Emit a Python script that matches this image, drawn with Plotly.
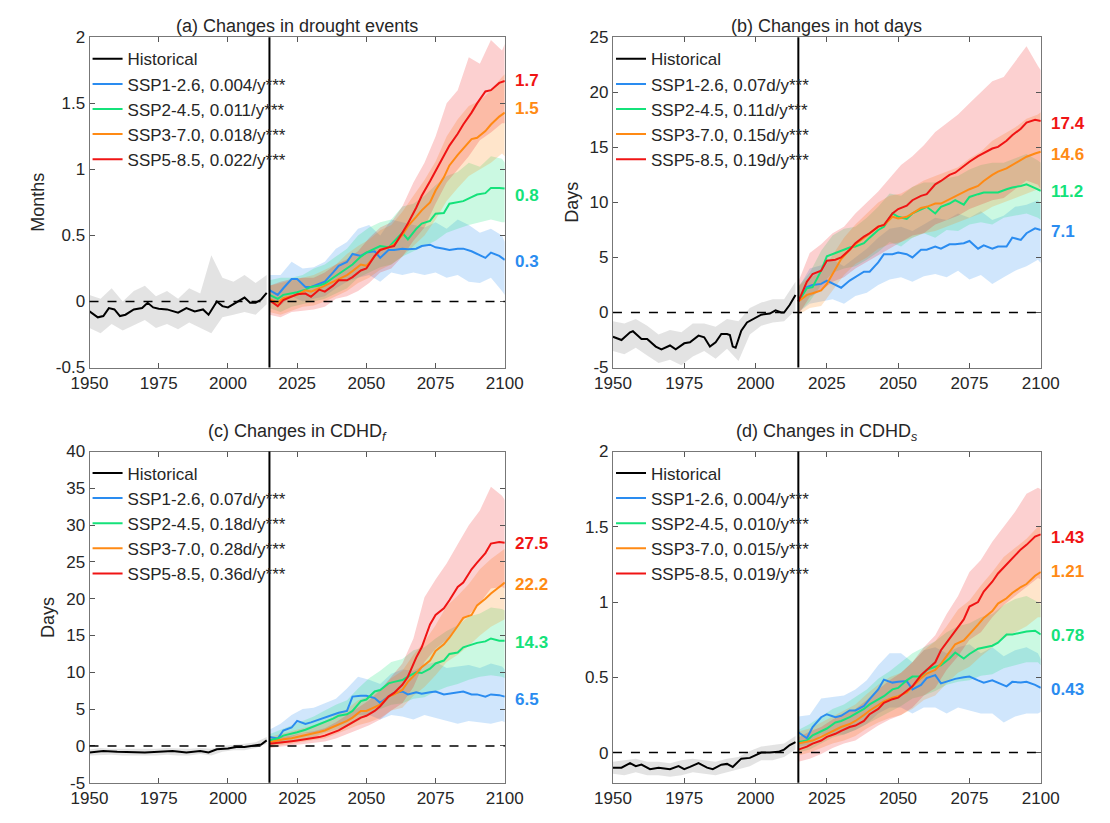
import plotly.graph_objects as go

# ---------------- data ----------------
ssp_years = [2015, 2018, 2020, 2023, 2025, 2028, 2030, 2033, 2035, 2038, 2040, 2043, 2045, 2048, 2050,
             2053, 2055, 2058, 2060, 2063, 2065, 2068, 2070, 2073, 2075, 2078, 2080, 2083, 2085, 2088,
             2090, 2093, 2095, 2098, 2100]
band_years_ssp = [2015, 2019, 2023, 2027, 2031, 2035, 2039, 2043, 2047, 2051, 2055, 2059, 2063, 2067,
                  2071, 2075, 2079, 2083, 2087, 2091, 2095, 2099, 2100]
band_years_hist = [1950, 1954, 1958, 1962, 1966, 1970, 1974, 1978, 1982, 1986, 1990, 1994, 1998, 2002,
                   2006, 2010, 2014]
scenarios = ["SSP1-2.6", "SSP2-4.5", "SSP3-7.0", "SSP5-8.5"]
x_ticks = [1950, 1975, 2000, 2025, 2050, 2075, 2100]

# ---- (a) drought events (months)
a_hist_years = [1950, 1953, 1955, 1957, 1959, 1961, 1963, 1966, 1969, 1971, 1973, 1975, 1978, 1982, 1985,
                1988, 1991, 1993, 1996, 1998, 2000, 2003, 2006, 2008, 2010, 2012, 2014]
a_hist = [-0.074, -0.12, -0.11, -0.05, -0.06, -0.11, -0.1, -0.06, -0.05, -0.01, -0.045, -0.055, -0.06, -0.085,
          -0.05, -0.075, -0.06, -0.1, 0.0, -0.035, -0.045, -0.01, 0.03, -0.01, -0.01, 0.015, 0.065]
a_hist_lo = [-0.2, -0.24, -0.17, -0.22, -0.18, -0.14, -0.2, -0.17, -0.21, -0.16, -0.2, -0.24, -0.12, -0.1, -0.08, -0.1, -0.02]
a_hist_hi = [0.05, 0.02, 0.1, 0.0, 0.08, 0.12, 0.04, 0.08, 0.02, 0.1, 0.06, 0.35, 0.18, 0.15, 0.2, 0.14, 0.2]
a_ssp126 = [0.086, 0.05, 0.1, 0.17, 0.17, 0.11, 0.11, 0.135, 0.15, 0.22, 0.27, 0.3, 0.36, 0.345, 0.37, 0.38, 0.33,
            0.39, 0.39, 0.4, 0.395, 0.4, 0.42, 0.43, 0.41, 0.4, 0.39, 0.4, 0.4, 0.38, 0.36, 0.33, 0.37, 0.345, 0.315]
a_ssp245 = [0.05, 0.02, 0.05, 0.06, 0.07, 0.09, 0.11, 0.12, 0.135, 0.18, 0.21, 0.25, 0.28, 0.34, 0.37, 0.4, 0.42,
            0.41, 0.455, 0.52, 0.47, 0.55, 0.59, 0.61, 0.665, 0.67, 0.74, 0.75, 0.76, 0.79, 0.81, 0.82, 0.86, 0.86, 0.855]
a_ssp370 = [0.02, -0.01, 0.025, 0.04, 0.05, 0.085, 0.075, 0.1, 0.12, 0.15, 0.17, 0.2, 0.23, 0.28, 0.27, 0.345, 0.39,
            0.41, 0.43, 0.505, 0.57, 0.64, 0.69, 0.75, 0.84, 0.94, 1.03, 1.11, 1.16, 1.23, 1.24, 1.29, 1.34, 1.4, 1.43]
a_ssp585 = [0.01, -0.035, 0.01, 0.04, 0.055, 0.06, 0.035, 0.09, 0.075, 0.12, 0.16, 0.16, 0.185, 0.235, 0.25, 0.345,
            0.39, 0.41, 0.42, 0.52, 0.59, 0.71, 0.8, 0.91, 0.985, 1.1, 1.18, 1.27, 1.34, 1.43, 1.5, 1.59, 1.6, 1.655, 1.67]
a_ssp126_lo = [0.0, -0.03, 0.04, 0.0, 0.02, 0.04, 0.1, 0.15, 0.18, 0.2, 0.15, 0.22, 0.2, 0.22, 0.2, 0.22, 0.18, 0.2, 0.15, 0.14, 0.18, 0.08, 0.05]
a_ssp126_hi = [0.2, 0.2, 0.3, 0.25, 0.26, 0.3, 0.4, 0.45, 0.55, 0.58, 0.5, 0.62, 0.6, 0.58, 0.56, 0.6, 0.55, 0.62, 0.58, 0.52, 0.55, 0.5, 0.45]
a_ssp245_lo = [-0.05, -0.08, -0.04, -0.02, 0.0, 0.02, 0.06, 0.1, 0.18, 0.22, 0.26, 0.28, 0.34, 0.38, 0.42, 0.46, 0.52, 0.55, 0.58, 0.6, 0.62, 0.6, 0.6]
a_ssp245_hi = [0.16, 0.18, 0.18, 0.2, 0.25, 0.28, 0.34, 0.4, 0.5, 0.56, 0.6, 0.62, 0.72, 0.74, 0.8, 0.88, 0.95, 0.98, 1.05, 1.02, 1.1, 1.08, 1.05]
a_ssp370_lo = [-0.08, -0.1, -0.07, -0.04, -0.03, 0.0, 0.04, 0.08, 0.14, 0.18, 0.24, 0.28, 0.34, 0.42, 0.5, 0.62, 0.76, 0.86, 0.95, 1.0, 1.05, 1.12, 1.1]
a_ssp370_hi = [0.12, 0.14, 0.16, 0.18, 0.2, 0.24, 0.28, 0.36, 0.42, 0.47, 0.54, 0.58, 0.68, 0.8, 0.92, 1.06, 1.25, 1.38, 1.48, 1.52, 1.6, 1.7, 1.72]
a_ssp585_lo = [-0.1, -0.12, -0.08, -0.07, -0.06, -0.04, 0.02, 0.04, 0.08, 0.14, 0.22, 0.25, 0.34, 0.46, 0.56, 0.74, 0.9, 1.0, 1.1, 1.22, 1.28, 1.35, 1.35]
a_ssp585_hi = [0.12, 0.15, 0.17, 0.18, 0.18, 0.22, 0.28, 0.32, 0.38, 0.48, 0.56, 0.6, 0.72, 0.9, 1.05, 1.25, 1.5, 1.6, 1.85, 1.8, 1.98, 1.9, 1.95]
a_trends = ["0.004/y***", "0.011/y***", "0.018/y***", "0.022/y***"]
a_end_labels = ["0.3", "0.8", "1.5", "1.7"]
a_end_label_y = [0.3, 0.8, 1.46, 1.67]
a_yticks = [-0.5, 0, 0.5, 1, 1.5, 2]
a_yticktext = ["-0.5", "0", "0.5", "1", "1.5", "2"]

# ---- (b) hot days
b_hist_years = [1950, 1953, 1956, 1957, 1960, 1962, 1965, 1967, 1970, 1972, 1975, 1977, 1980, 1982, 1984, 1986,
                1988, 1990, 1991, 1992, 1993, 1995, 1997, 2000, 2002, 2005, 2007, 2009, 2010, 2012, 2014]
b_hist = [-2.2, -2.5, -1.8, -1.7, -2.4, -2.4, -3.1, -3.35, -3.0, -3.35, -2.8, -2.7, -2.1, -2.25, -3.1, -2.7,
          -1.95, -1.95, -2.05, -3.1, -3.2, -1.65, -0.9, -0.5, -0.2, -0.1, 0.2, 0.0, 0.0, 0.7, 1.6]
b_hist_lo = [-3.5, -3.8, -3.2, -3.9, -4.6, -4.3, -4.8, -4.0, -3.5, -4.2, -3.3, -4.4, -2.0, -1.2, -0.9, -0.8, 0.2]
b_hist_hi = [-0.8, -1.0, -0.6, -1.2, -2.0, -1.6, -1.8, -1.0, -1.0, -1.3, -0.6, -0.8, 0.4, 0.9, 1.2, 1.2, 2.8]
b_ssp126 = [1.0, 2.3, 2.5, 2.6, 2.9, 2.5, 2.25, 2.9, 3.2, 3.7, 3.7, 4.55, 5.3, 5.3, 5.45, 5.3, 5.0, 5.7, 5.7, 6.0,
            5.8, 6.2, 6.2, 6.3, 6.5, 5.8, 6.1, 5.8, 6.0, 6.0, 6.8, 6.6, 7.2, 7.65, 7.5]
b_ssp245 = [1.0, 2.2, 2.3, 3.8, 5.1, 5.4, 5.6, 5.9, 6.0, 6.3, 6.8, 7.5, 7.8, 9.0, 8.7, 8.5, 9.0, 9.4, 9.6, 9.0,
            9.6, 9.9, 10.2, 9.8, 10.5, 10.75, 10.9, 10.9, 10.9, 11.2, 11.35, 11.5, 11.65, 11.3, 11.05]
b_ssp370 = [1.0, 1.6, 1.75, 2.0, 2.6, 4.0, 4.85, 5.7, 6.2, 6.8, 7.2, 7.8, 7.95, 8.7, 8.55, 8.7, 9.0, 9.5, 9.6, 9.9,
            9.9, 10.3, 10.5, 10.9, 11.2, 11.5, 11.95, 12.5, 12.8, 13.1, 13.4, 13.85, 14.15, 14.45, 14.6]
b_ssp585 = [1.0, 2.8, 3.5, 3.8, 4.7, 4.8, 5.0, 5.7, 6.3, 6.9, 7.2, 7.8, 7.95, 9.0, 9.4, 9.7, 10.2, 10.6, 10.75,
            11.65, 11.95, 12.5, 12.7, 13.3, 13.7, 14.2, 14.45, 14.9, 15.05, 15.6, 16.1, 16.7, 17.25, 17.5, 17.4]
b_ssp126_lo = [0.0, 0.8, 1.0, 1.2, 0.8, 1.5, 1.8, 2.5, 3.0, 3.2, 2.8, 3.3, 3.5, 3.2, 3.8, 3.0, 3.4, 2.6, 3.2, 3.8, 4.2, 4.8, 4.5]
b_ssp126_hi = [2.2, 4.0, 4.3, 4.8, 4.2, 5.0, 5.8, 6.8, 7.6, 7.8, 7.4, 8.0, 8.6, 8.4, 9.0, 8.6, 9.2, 8.4, 8.8, 9.6, 9.8, 10.2, 9.8]
b_ssp245_lo = [0.0, 1.0, 2.5, 3.6, 4.0, 4.2, 4.8, 5.5, 6.4, 6.0, 6.8, 7.2, 6.8, 7.5, 7.4, 8.0, 8.2, 8.0, 8.6, 8.8, 9.0, 8.6, 8.4]
b_ssp245_hi = [2.4, 3.6, 5.6, 7.0, 7.6, 7.8, 8.6, 9.6, 10.8, 10.6, 11.4, 11.8, 11.8, 12.2, 12.4, 13.0, 13.4, 13.6, 13.6, 14.0, 14.4, 13.8, 13.6]
b_ssp370_lo = [-0.2, 0.4, 0.6, 2.0, 3.4, 4.4, 5.0, 5.8, 6.2, 6.4, 6.8, 7.2, 7.4, 7.8, 8.2, 8.6, 9.0, 9.6, 10.0, 10.4, 10.8, 11.2, 11.0]
b_ssp370_hi = [2.4, 3.2, 3.6, 5.2, 6.8, 8.0, 9.0, 10.0, 10.6, 10.8, 11.4, 12.0, 12.4, 12.8, 13.2, 14.0, 14.6, 15.6, 16.2, 16.8, 17.6, 18.0, 18.2]
b_ssp585_lo = [-0.2, 1.4, 2.0, 2.8, 3.2, 4.0, 4.6, 5.2, 5.8, 6.4, 7.0, 7.2, 8.0, 8.4, 8.8, 9.4, 9.8, 10.2, 10.4, 11.2, 12.0, 11.6, 11.2]
b_ssp585_hi = [2.8, 5.4, 6.2, 7.2, 7.8, 9.0, 10.0, 11.0, 12.2, 13.4, 14.2, 15.2, 16.4, 17.2, 18.0, 19.0, 20.0, 21.0, 21.4, 22.8, 24.2, 22.4, 22.0]
b_trends = ["0.07d/y***", "0.11d/y***", "0.15d/y***", "0.19d/y***"]
b_end_labels = ["7.1", "11.2", "14.6", "17.4"]
b_end_label_y = [7.4, 11.0, 14.4, 17.2]
b_yticks = [-5, 0, 5, 10, 15, 20, 25]
b_yticktext = ["-5", "0", "5", "10", "15", "20", "25"]

# ---- (c) CDHD_f
c_hist_years = [1950, 1955, 1960, 1965, 1970, 1975, 1980, 1985, 1990, 1993, 1996, 2000, 2003, 2006, 2010, 2012, 2014]
c_hist = [-0.9, -0.7, -0.8, -0.9, -0.9, -0.8, -0.7, -0.9, -0.7, -0.9, -0.45, -0.35, -0.15, -0.15, 0.1, 0.2, 0.75]
c_hist_lo = [-1.3, -1.2, -1.2, -1.3, -1.4, -1.3, -1.3, -1.2, -1.3, -1.3, -1.1, -1.3, -0.8, -0.6, -0.6, -0.3, 0.3]
c_hist_hi = [-0.5, -0.3, -0.4, -0.4, -0.5, -0.5, -0.4, -0.3, -0.4, -0.4, -0.3, -0.4, 0.0, 0.2, 0.3, 0.5, 1.2]
c_ssp126 = [1.2, 1.0, 2.1, 2.5, 3.4, 3.0, 3.2, 3.6, 3.85, 4.3, 4.5, 4.75, 6.7, 6.8, 6.8, 6.5, 5.85, 6.7, 7.2, 7.4,
            7.0, 7.3, 7.1, 7.3, 7.4, 7.0, 7.1, 7.3, 7.4, 7.0, 7.0, 6.7, 7.0, 6.9, 6.7]
c_ssp245 = [0.75, 1.0, 1.4, 1.65, 1.85, 2.2, 2.5, 2.9, 3.2, 3.7, 4.1, 4.3, 4.75, 6.1, 6.3, 7.4, 7.6, 8.5, 8.7, 8.95,
            9.4, 10.0, 9.9, 10.5, 11.2, 11.6, 12.5, 12.7, 13.4, 13.8, 14.0, 14.2, 14.6, 14.3, 14.3]
c_ssp370 = [0.5, 0.75, 0.9, 1.05, 1.2, 1.45, 1.65, 1.9, 2.1, 2.6, 3.0, 3.4, 3.85, 4.75, 4.75, 5.2, 5.6, 6.7, 7.0,
            7.6, 8.7, 9.85, 10.7, 11.6, 12.9, 13.8, 14.7, 16.3, 17.4, 17.8, 19.1, 20.0, 20.7, 21.6, 22.2]
c_ssp585 = [0.3, 0.4, 0.5, 0.65, 0.75, 0.9, 1.05, 1.2, 1.4, 1.8, 2.1, 2.75, 3.2, 3.85, 4.1, 4.75, 5.4, 6.7, 7.2,
            8.3, 9.4, 12.0, 13.4, 16.5, 17.8, 18.7, 19.8, 21.6, 22.2, 24.0, 24.9, 26.2, 27.5, 27.7, 27.6]
c_ssp126_lo = [0.2, 0.4, 1.2, 1.8, 1.8, 2.2, 2.6, 3.2, 4.2, 4.2, 3.6, 4.2, 4.0, 3.6, 4.2, 3.8, 3.4, 3.0, 3.4, 3.2, 3.0, 3.4, 3.2]
c_ssp126_hi = [2.2, 3.0, 4.2, 5.0, 5.2, 5.8, 6.4, 7.8, 9.4, 9.0, 8.4, 9.8, 10.4, 10.2, 11.0, 11.4, 10.6, 10.8, 11.0, 10.6, 11.2, 10.8, 10.4]
c_ssp245_lo = [0.0, 0.3, 0.6, 0.9, 1.2, 1.8, 2.2, 2.6, 3.4, 4.2, 5.0, 5.6, 5.8, 6.4, 6.6, 7.4, 8.0, 8.4, 9.0, 9.4, 9.6, 9.4, 9.2]
c_ssp245_hi = [1.6, 2.2, 2.8, 3.4, 4.0, 4.8, 5.6, 6.2, 7.8, 9.2, 10.2, 11.4, 11.8, 13.0, 13.4, 14.6, 15.6, 16.4, 17.6, 18.0, 18.8, 18.6, 18.4]
c_ssp370_lo = [-0.2, 0.1, 0.3, 0.5, 0.8, 1.0, 1.6, 2.2, 2.8, 3.2, 3.8, 4.8, 5.2, 6.8, 8.0, 9.6, 11.4, 12.4, 13.6, 15.0, 16.2, 17.0, 17.2]
c_ssp370_hi = [1.2, 1.6, 2.0, 2.4, 2.8, 3.4, 4.2, 5.0, 6.2, 6.8, 7.6, 9.2, 10.2, 12.4, 14.2, 16.4, 19.0, 20.4, 22.0, 24.0, 25.4, 26.6, 26.8]
c_ssp585_lo = [-0.3, -0.2, 0.0, 0.2, 0.4, 0.6, 1.0, 1.6, 2.2, 2.8, 3.6, 4.8, 5.8, 8.0, 11.4, 13.2, 14.4, 16.4, 17.8, 19.4, 21.4, 21.6, 21.4]
c_ssp585_hi = [1.0, 1.2, 1.4, 1.8, 2.0, 2.4, 3.2, 4.2, 5.2, 6.2, 7.6, 9.4, 11.2, 14.6, 20.2, 22.6, 24.8, 27.4, 30.0, 32.0, 35.2, 34.0, 33.4]
c_trends = ["0.07d/y***", "0.18d/y***", "0.28d/y***", "0.36d/y***"]
c_end_labels = ["6.5", "14.3", "22.2", "27.5"]
c_end_label_y = [6.3, 14.1, 22.0, 27.5]
c_yticks = [-5, 0, 5, 10, 15, 20, 25, 30, 35, 40]
c_yticktext = ["-5", "0", "5", "10", "15", "20", "25", "30", "35", "40"]

# ---- (d) CDHD_s
d_hist_years = [1950, 1953, 1956, 1958, 1960, 1963, 1966, 1970, 1973, 1975, 1977, 1980, 1983, 1985, 1988, 1990,
                1992, 1995, 1998, 2000, 2002, 2005, 2008, 2010, 2012, 2014]
d_hist = [-0.1, -0.1, -0.07, -0.09, -0.08, -0.11, -0.1, -0.11, -0.09, -0.11, -0.095, -0.07, -0.1, -0.11, -0.08,
          -0.075, -0.095, -0.04, -0.035, -0.015, 0.0, 0.0, 0.005, 0.02, 0.05, 0.07]
d_hist_lo = [-0.14, -0.15, -0.13, -0.15, -0.15, -0.16, -0.15, -0.13, -0.14, -0.15, -0.13, -0.11, -0.09, -0.05, -0.05, -0.03, 0.02]
d_hist_hi = [-0.06, -0.05, -0.04, -0.06, -0.06, -0.07, -0.05, -0.04, -0.05, -0.06, -0.04, -0.03, 0.01, 0.04, 0.05, 0.06, 0.11]
d_ssp126 = [0.135, 0.095, 0.17, 0.235, 0.255, 0.235, 0.245, 0.28, 0.28, 0.31, 0.355, 0.42, 0.485, 0.465, 0.47,
            0.475, 0.42, 0.45, 0.495, 0.515, 0.46, 0.48, 0.49, 0.5, 0.505, 0.48, 0.465, 0.48, 0.465, 0.44, 0.47,
            0.465, 0.47, 0.45, 0.43]
d_ssp245 = [0.07, 0.08, 0.115, 0.145, 0.16, 0.2, 0.21, 0.235, 0.255, 0.29, 0.32, 0.355, 0.375, 0.42, 0.43, 0.48,
            0.505, 0.505, 0.55, 0.57, 0.58, 0.625, 0.665, 0.625, 0.655, 0.69, 0.7, 0.71, 0.73, 0.785, 0.785, 0.8,
            0.805, 0.81, 0.785]
d_ssp370 = [0.06, 0.07, 0.08, 0.105, 0.125, 0.15, 0.17, 0.19, 0.21, 0.25, 0.28, 0.315, 0.34, 0.365, 0.375, 0.4,
            0.44, 0.495, 0.525, 0.55, 0.59, 0.665, 0.72, 0.745, 0.785, 0.85, 0.895, 0.94, 0.99, 1.025, 1.06, 1.1,
            1.12, 1.175, 1.2]
d_ssp585 = [0.02, 0.04, 0.06, 0.08, 0.105, 0.125, 0.145, 0.17, 0.18, 0.21, 0.255, 0.29, 0.33, 0.355, 0.365, 0.41,
            0.44, 0.515, 0.55, 0.6, 0.68, 0.755, 0.81, 0.885, 0.97, 1.0, 1.07, 1.135, 1.19, 1.25, 1.285, 1.35, 1.38,
            1.435, 1.45]
d_ssp126_lo = [0.04, 0.05, 0.12, 0.12, 0.12, 0.15, 0.19, 0.26, 0.3, 0.3, 0.26, 0.3, 0.3, 0.26, 0.3, 0.28, 0.26, 0.26, 0.2, 0.24, 0.26, 0.26, 0.27]
d_ssp126_hi = [0.24, 0.25, 0.36, 0.37, 0.38, 0.42, 0.48, 0.58, 0.66, 0.66, 0.6, 0.68, 0.7, 0.66, 0.7, 0.72, 0.66, 0.7, 0.64, 0.68, 0.7, 0.66, 0.62]
d_ssp245_lo = [0.0, 0.02, 0.06, 0.1, 0.12, 0.15, 0.19, 0.23, 0.27, 0.31, 0.36, 0.38, 0.41, 0.45, 0.47, 0.48, 0.51, 0.52, 0.56, 0.58, 0.6, 0.6, 0.58]
d_ssp245_hi = [0.15, 0.19, 0.24, 0.29, 0.32, 0.37, 0.42, 0.49, 0.54, 0.6, 0.66, 0.7, 0.74, 0.8, 0.84, 0.86, 0.9, 0.92, 0.98, 1.02, 1.04, 1.0, 0.98]
d_ssp370_lo = [-0.02, 0.0, 0.03, 0.06, 0.08, 0.11, 0.16, 0.2, 0.23, 0.25, 0.29, 0.35, 0.38, 0.46, 0.53, 0.57, 0.64, 0.7, 0.76, 0.8, 0.84, 0.9, 0.9]
d_ssp370_hi = [0.14, 0.16, 0.2, 0.24, 0.28, 0.32, 0.39, 0.45, 0.5, 0.53, 0.6, 0.68, 0.74, 0.84, 0.95, 1.01, 1.11, 1.2, 1.3, 1.36, 1.42, 1.5, 1.5]
d_ssp585_lo = [-0.06, -0.04, -0.01, 0.03, 0.06, 0.08, 0.13, 0.18, 0.22, 0.25, 0.3, 0.38, 0.43, 0.55, 0.64, 0.75, 0.8, 0.9, 0.98, 1.04, 1.1, 1.16, 1.15]
d_ssp585_hi = [0.1, 0.14, 0.17, 0.22, 0.26, 0.29, 0.35, 0.42, 0.48, 0.53, 0.6, 0.7, 0.78, 0.92, 1.04, 1.2, 1.28, 1.4, 1.5, 1.6, 1.72, 1.76, 1.75]
d_trends = ["0.004/y***", "0.010/y***", "0.015/y***", "0.019/y***"]
d_end_labels = ["0.43", "0.78", "1.21", "1.43"]
d_end_label_y = [0.42, 0.78, 1.2, 1.43]
d_yticks = [0, 0.5, 1, 1.5, 2]
d_yticktext = ["0", "0.5", "1", "1.5", "2"]

# ---------------- styling ----------------
FONT = "Liberation Sans, Arial, sans-serif"
TXT = "#262626"
line_colors = ["#2a8cf0", "#14e27a", "#ff8a14", "#f01414"]
band_colors = ["rgba(42,140,240,0.22)", "rgba(20,226,122,0.22)", "rgba(255,138,20,0.22)", "rgba(240,20,20,0.2)"]
hist_band_color = "rgba(175,175,175,0.35)"
W, H = 1110, 823

panels = [
    dict(title="(a) Changes in drought events", ytitle="Months", yrange=[-0.5, 2],
         yt=a_yticks, ytt=a_yticktext, hy=a_hist_years, h=a_hist, hlo=a_hist_lo, hhi=a_hist_hi,
         lines=[a_ssp126, a_ssp245, a_ssp370, a_ssp585],
         lo=[a_ssp126_lo, a_ssp245_lo, a_ssp370_lo, a_ssp585_lo],
         hi=[a_ssp126_hi, a_ssp245_hi, a_ssp370_hi, a_ssp585_hi],
         trends=a_trends, ends=a_end_labels, endy=a_end_label_y,
         px=(73, 503), py=(29, 367), ytx=20, tty=17),
    dict(title="(b) Changes in hot days", ytitle="Days", yrange=[-5, 25],
         yt=b_yticks, ytt=b_yticktext, hy=b_hist_years, h=b_hist, hlo=b_hist_lo, hhi=b_hist_hi,
         lines=[b_ssp126, b_ssp245, b_ssp370, b_ssp585],
         lo=[b_ssp126_lo, b_ssp245_lo, b_ssp370_lo, b_ssp585_lo],
         hi=[b_ssp126_hi, b_ssp245_hi, b_ssp370_hi, b_ssp585_hi],
         trends=b_trends, ends=b_end_labels, endy=b_end_label_y,
         px=(615, 1058), py=(29, 367), ytx=573, tty=17),
    dict(title="(c) Changes in CDHD<sub><i>f</i></sub>", ytitle="Days", yrange=[-5, 40],
         yt=c_yticks, ytt=c_yticktext, hy=c_hist_years, h=c_hist, hlo=c_hist_lo, hhi=c_hist_hi,
         lines=[c_ssp126, c_ssp245, c_ssp370, c_ssp585],
         lo=[c_ssp126_lo, c_ssp245_lo, c_ssp370_lo, c_ssp585_lo],
         hi=[c_ssp126_hi, c_ssp245_hi, c_ssp370_hi, c_ssp585_hi],
         trends=c_trends, ends=c_end_labels, endy=c_end_label_y,
         px=(73, 503), py=(453, 792), ytx=30, tty=434),
    dict(title="(d) Changes in CDHD<sub><i>s</i></sub>", ytitle="", yrange=[-0.2, 2],
         yt=d_yticks, ytt=d_yticktext, hy=d_hist_years, h=d_hist, hlo=d_hist_lo, hhi=d_hist_hi,
         lines=[d_ssp126, d_ssp245, d_ssp370, d_ssp585],
         lo=[d_ssp126_lo, d_ssp245_lo, d_ssp370_lo, d_ssp585_lo],
         hi=[d_ssp126_hi, d_ssp245_hi, d_ssp370_hi, d_ssp585_hi],
         trends=d_trends, ends=d_end_labels, endy=d_end_label_y,
         px=(615, 1058), py=(453, 792), ytx=573, tty=434),
]

fig = go.Figure()
annotations = []
shapes = []
layout = {}

for i, p in enumerate(panels):
    n = i + 1
    xa = "x" if n == 1 else f"x{n}"
    ya = "y" if n == 1 else f"y{n}"
    lg = "legend" if n == 1 else f"legend{n}"
    fig.add_trace(go.Scatter(x=band_years_hist + band_years_hist[::-1], y=p["hhi"] + p["hlo"][::-1],
                             fill="toself", fillcolor=hist_band_color, line=dict(width=0),
                             mode="lines", showlegend=False, hoverinfo="skip", xaxis=xa, yaxis=ya))
    for k in range(4):
        fig.add_trace(go.Scatter(x=band_years_ssp + band_years_ssp[::-1], y=p["hi"][k] + p["lo"][k][::-1],
                                 fill="toself", fillcolor=band_colors[k], line=dict(width=0),
                                 mode="lines", showlegend=False, hoverinfo="skip", xaxis=xa, yaxis=ya))
    fig.add_trace(go.Scatter(x=p["hy"], y=p["h"], mode="lines", name="Historical",
                             line=dict(color="black", width=2), xaxis=xa, yaxis=ya, legend=lg))
    for k in range(4):
        fig.add_trace(go.Scatter(x=ssp_years, y=p["lines"][k], mode="lines",
                                 name=f"{scenarios[k]}, {p['trends'][k]}",
                                 line=dict(color=line_colors[k], width=2), xaxis=xa, yaxis=ya, legend=lg))

    x0, x1 = p["px"][0] / W, p["px"][1] / W
    y0, y1 = 1 - p["py"][1] / H, 1 - p["py"][0] / H
    axkey = "xaxis" if n == 1 else f"xaxis{n}"
    aykey = "yaxis" if n == 1 else f"yaxis{n}"
    common = dict(ticks="inside", ticklen=5, tickcolor="#555", showline=True, linecolor="#777",
                  linewidth=1, mirror="ticks", showgrid=False, zeroline=False,
                  tickfont=dict(family=FONT, size=17, color=TXT))
    layout[axkey] = dict(domain=[x0, x1], range=[1950, 2100], anchor=ya, tickvals=x_ticks,
                         ticktext=[str(v) for v in x_ticks], **common)
    layout[aykey] = dict(domain=[y0, y1], range=p["yrange"], anchor=xa, tickvals=p["yt"],
                         ticktext=p["ytt"], **common)
    layout[lg] = dict(x=(p["px"][0] - 2) / W, y=1 - (p["py"][0] + 4) / H, xanchor="left", yanchor="top",
                      bgcolor="rgba(0,0,0,0)", borderwidth=0,
                      font=dict(family=FONT, size=17, color=TXT), tracegroupgap=0)
    annotations.append(dict(text=p["title"], x=(x0 + x1) / 2, y=1 - p["tty"] / H, xref="paper",
                            yref="paper", xanchor="center", yanchor="middle", showarrow=False,
                            font=dict(family=FONT, size=18, color=TXT)))
    if p["ytitle"]:
        annotations.append(dict(text=p["ytitle"], x=p["ytx"] / W, y=(y0 + y1) / 2, xref="paper", yref="paper",
                                xanchor="center", yanchor="middle", textangle=-90, showarrow=False,
                                font=dict(family=FONT, size=18, color=TXT)))
    for k in range(4):
        annotations.append(dict(text=f"<b>{p['ends'][k]}</b>", x=1, xref=f"{xa} domain", y=p["endy"][k],
                                yref=ya, xanchor="left", yanchor="middle", xshift=8, showarrow=False,
                                font=dict(family=FONT, size=17, color=line_colors[k])))
    shapes.append(dict(type="line", xref=f"{xa} domain", yref=ya, x0=0, x1=1, y0=0, y1=0,
                       line=dict(color="black", width=1.5, dash="dash"), layer="above"))
    shapes.append(dict(type="line", xref=xa, yref=f"{ya} domain", x0=2015, x1=2015, y0=0, y1=1,
                       line=dict(color="black", width=2), layer="above"))

fig.update_layout(width=W, height=H, margin=dict(l=0, r=0, t=0, b=0), paper_bgcolor="white",
                  plot_bgcolor="white", annotations=annotations, shapes=shapes,
                  font=dict(family=FONT, size=16, color=TXT), **layout)
fig.write_html("out.html")
